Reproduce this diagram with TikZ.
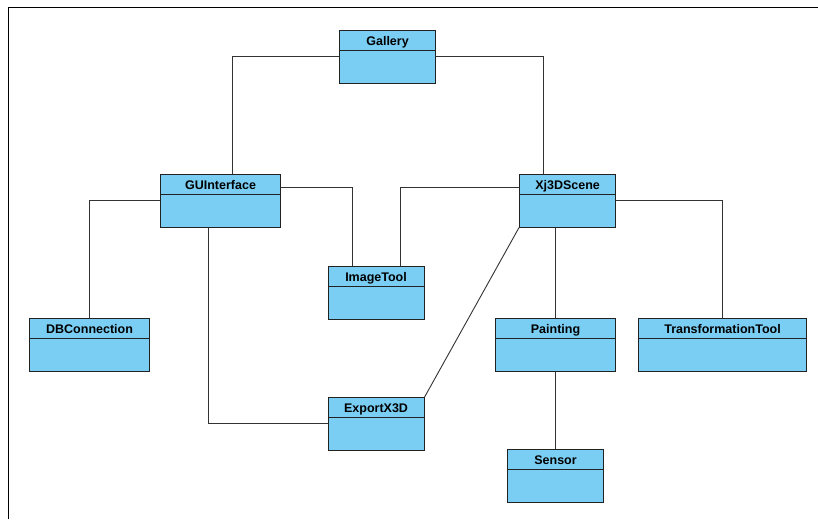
\documentclass[tikz,border=0pt]{standalone}
\usepackage{fontspec}
\setmainfont{Liberation Sans}
\usepackage{xcolor}
\usetikzlibrary{positioning,calc}

\definecolor{boxfill}{HTML}{7ACEF4}
\definecolor{boxline}{HTML}{222222}
\definecolor{linkline}{HTML}{333333}

\tikzset{
    classbox/.style={draw=boxline, fill=boxfill, rectangle, anchor=north west,
        line width=1.1pt, minimum width=#1, minimum height=52.5pt,
        inner xsep=0pt, inner ysep=0pt, text height=14.5pt, text depth=38pt,
        font=\fontsize{12.5}{14}\selectfont\bfseries,
        path picture={\draw[boxline, line width=1.1pt]
            ([yshift=-20pt]path picture bounding box.north west) --
            ([yshift=-20pt]path picture bounding box.north east);}},
    assoc/.style={draw=linkline, line width=0.9pt}
}

\begin{document}
\begin{tikzpicture}[x=1pt, y=-1pt]
                \useasboundingbox (0,0) rectangle (818,519);
                \draw[line width=1.6pt] (8.5,519) -- (8.5,7.5) -- (818,7.5);

                \node[classbox=96pt] (gallery) at (339,30) {Gallery};
                \node[classbox=120pt] (guiface) at (160,174) {GUInterface};
                \node[classbox=96pt] (xjscene) at (519,174) {Xj3DScene};
                \node[classbox=96pt] (imagetool) at (327.5,266) {ImageTool};
                \node[classbox=120pt] (dbconn) at (29,318) {DBConnection};
                \node[classbox=120pt] (painting) at (495,318) {Painting};
                \node[classbox=168pt] (transtool) at (638,318) {TransformationTool};
                \node[classbox=96pt] (exportxd) at (327.5,397) {ExportX3D};
                \node[classbox=96pt] (sensor) at (507,449) {Sensor};

                % links
                \draw[assoc] ([yshift=-26pt]gallery.north west) -| ([xshift=12pt]guiface.north);
                \draw[assoc] ([yshift=-26pt]gallery.north east) -| ([xshift=-24pt]xjscene.north);
                \draw[assoc] ([yshift=-26pt]guiface.north west) -| (dbconn.north);
                \draw[assoc] ([yshift=-13.3pt]guiface.north east) -| ([xshift=-24pt]imagetool.north);
                \draw[assoc] ([yshift=-13.3pt]xjscene.north west) -| ([xshift=24pt]imagetool.north);
                \draw[assoc] ([xshift=-12pt]guiface.south) |- ([yshift=-26pt]exportxd.north west);
                \draw[assoc] (xjscene.south west) -- (exportxd.north east);
                \draw[assoc] (xjscene.south -| painting.north) -- (painting.north);
                \draw[assoc] ([yshift=-26pt]xjscene.north east) -| (transtool.north);
                \draw[assoc] (painting.south) -- (sensor.north);
            \end{tikzpicture}
\end{document}
